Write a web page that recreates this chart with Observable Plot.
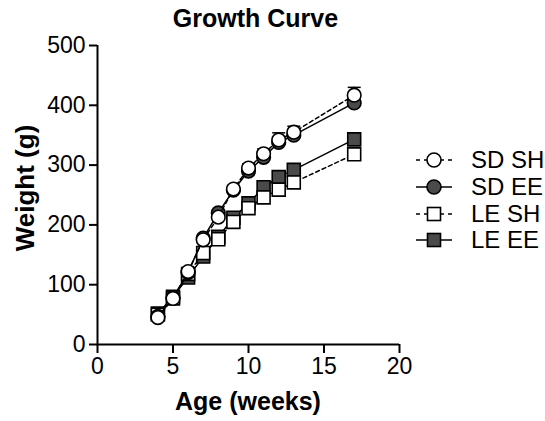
<!DOCTYPE html>
<html><head><meta charset="utf-8">
<script src="https://cdn.jsdelivr.net/npm/d3@7"></script>
<script src="https://cdn.jsdelivr.net/npm/@observablehq/plot@0.6"></script>
<style>
body{margin:0;background:#fff;font-family:"Liberation Sans",Arial,sans-serif;}
#wrap{position:relative;width:545px;height:421px;overflow:hidden;}
#chart{position:absolute;left:0;top:0;}
.lab{position:absolute;font-weight:bold;color:#000;white-space:nowrap;}
#title{left:0;width:511px;text-align:center;top:4px;font-size:25px;}
#xlab{left:97px;width:302px;text-align:center;top:387px;font-size:25px;}
#ylab{left:25px;top:188px;transform:translate(-50%,-50%) rotate(-90deg);font-size:26px;}
#legend{position:absolute;left:415px;top:147px;}
.row{display:flex;align-items:center;height:26.7px;font-size:24px;}
.row svg{margin-right:18px;}
</style></head>
<body>
<div id="wrap">
<div id="chart"></div>
<div id="title" class="lab">Growth Curve</div>
<div id="xlab" class="lab">Age (weeks)</div>
<div id="ylab" class="lab">Weight (g)</div>
<div id="legend"></div>
</div>
<script>
const weeks = [4,5,6,7,8,9,10,11,12,13,17];
const sdSH = [45,77,122,175,213,260,295,319,342,355,417];
const sdEE = [47,78,120,178,220,258,290,313,338,350,404];
const leSH = [50,77,118,153,176,205,228,246,259,271,318];
const leEE = [52,80,112,147,180,212,236,263,280,292,343];
const sdSHerr = [2,3,4,5,5,6,7,8,12,10,13];
const seriesNames = ["SD SH","SD EE","LE SH","LE EE"];
const xTicks = [0,5,10,15,20];
const yTicks = [0,100,200,300,400,500];

const FILL = "#4a4a4a";
const styles = {
  "SD SH": {symbol:"circle", fill:"white", dash:"4,3"},
  "SD EE": {symbol:"circle", fill:FILL, dash:null},
  "LE SH": {symbol:"square", fill:"white", dash:"4,3"},
  "LE EE": {symbol:"square", fill:FILL, dash:null}
};
const values = {"SD SH":sdSH,"SD EE":sdEE,"LE SH":leSH,"LE EE":leEE};
const rows = name => weeks.map((w,i)=>({week:w, weight:values[name][i]}));
const errRows = weeks.map((w,i)=>({week:w, lo:sdSH[i]-sdSHerr[i], hi:sdSH[i]+sdSHerr[i]}));

const capSymbol = {draw(ctx){ctx.moveTo(-6.5,0);ctx.lineTo(6.5,0);}};

function seriesMarks(name){
  const s = styles[name], d = rows(name);
  const r = s.symbol === "circle" ? 6.8 : 7.3;
  return [
    Plot.line(d,{x:"week",y:"weight",stroke:"black",strokeWidth:1.5,strokeDasharray:s.dash}),
    Plot.dot(d,{x:"week",y:"weight",symbol:()=>s.symbol,r,fill:s.fill,stroke:"black",strokeWidth:1.6})
  ];
}

const chart = Plot.plot({
  width:545, height:421,
  marginLeft:97, marginRight:146, marginTop:45, marginBottom:77,
  style:{fontFamily:"Liberation Sans, Arial, sans-serif", fontSize:"23px", color:"black", background:"white", overflow:"visible"},
  x:{domain:[0,20]},
  y:{domain:[0,500]},
  symbol:{type:"identity"},
  marks:[
    Plot.ruleX(errRows,{x:"week",y1:"lo",y2:"hi",stroke:"black",strokeWidth:1.5}),
    Plot.dot(errRows,{x:"week",y:"hi",symbol:()=>capSymbol,r:3,stroke:"black",strokeWidth:1.5,fill:"none"}),
    ...seriesMarks("LE EE"),
    ...seriesMarks("LE SH"),
    ...seriesMarks("SD EE"),
    ...seriesMarks("SD SH"),
    Plot.ruleX([0],{stroke:"black",strokeWidth:2}),
    Plot.ruleY([0],{stroke:"black",strokeWidth:2}),
    Plot.axisX({ticks:xTicks, tickSize:9, tickPadding:4, strokeWidth:2, label:null, fontSize:23}),
    Plot.axisY({ticks:yTicks, tickSize:8, tickPadding:4, strokeWidth:2, label:null, fontSize:23})
  ]
});
document.getElementById("chart").appendChild(chart);

const legend = document.getElementById("legend");
for (const name of seriesNames){
  const s = styles[name];
  const row = document.createElement("div"); row.className="row";
  const ns="http://www.w3.org/2000/svg";
  const svg = document.createElementNS(ns,"svg");
  svg.setAttribute("width","38"); svg.setAttribute("height","18");
  const line = document.createElementNS(ns,"line");
  line.setAttribute("x1","1"); line.setAttribute("x2","37"); line.setAttribute("y1","9"); line.setAttribute("y2","9");
  line.setAttribute("stroke","black"); line.setAttribute("stroke-width","1.6");
  if (s.dash) line.setAttribute("stroke-dasharray","4,4");
  svg.appendChild(line);
  let m;
  if (s.symbol==="circle"){ m=document.createElementNS(ns,"circle"); m.setAttribute("cx","19"); m.setAttribute("cy","9"); m.setAttribute("r","7"); }
  else { m=document.createElementNS(ns,"rect"); m.setAttribute("x","12.5"); m.setAttribute("y","2.5"); m.setAttribute("width","13"); m.setAttribute("height","13"); }
  m.setAttribute("fill",s.fill); m.setAttribute("stroke","black"); m.setAttribute("stroke-width","1.6");
  svg.appendChild(m);
  row.appendChild(svg);
  const t=document.createElement("span"); t.textContent=name; row.appendChild(t);
  legend.appendChild(row);
}
</script>
</body></html>
